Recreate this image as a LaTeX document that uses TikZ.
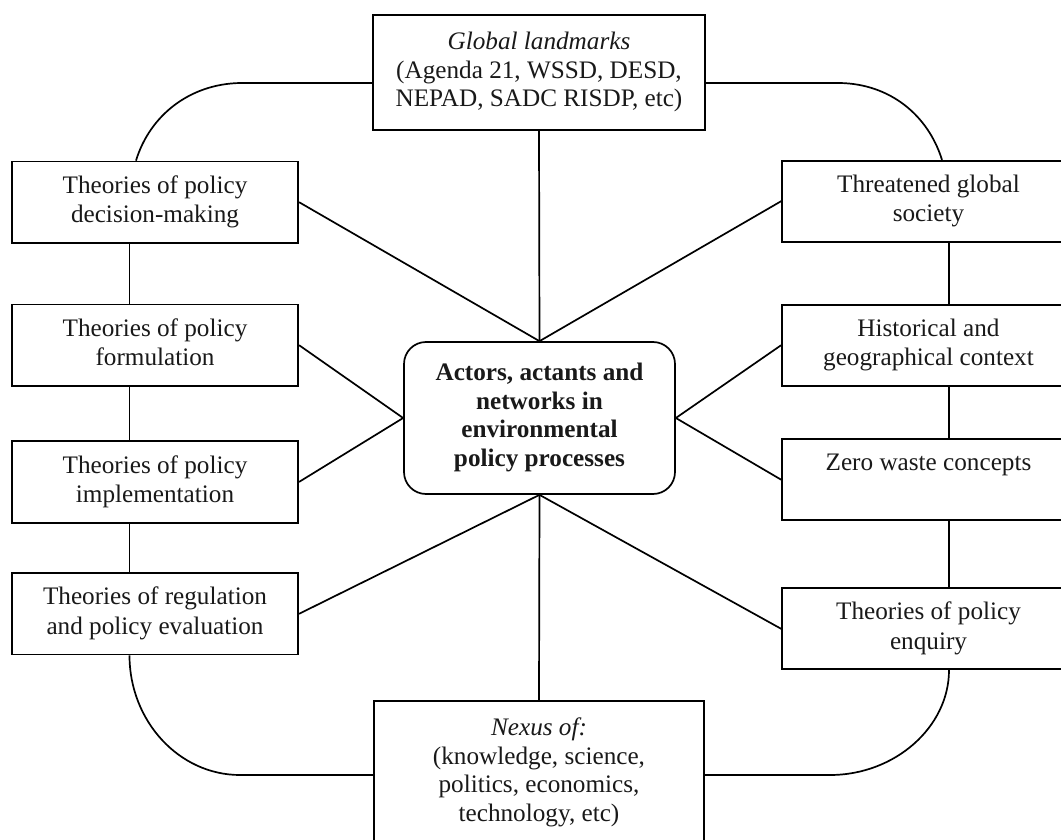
\documentclass[tikz,border=0pt]{standalone}
\usepackage{fontspec}
\setmainfont{Liberation Serif}
\usetikzlibrary{calc}
\begin{document}
\begin{tikzpicture}[x=1pt,y=-1pt,
  line width=1.7pt,
  box/.style={draw, line width=1.7pt, inner sep=0pt, align=center, text=black!90,
    font=\fontsize{25.2}{29.5}\selectfont},
  lbox/.style={box, minimum width=286.5pt, minimum height=81.5pt},
  rbox/.style={box, minimum width=293pt, minimum height=81pt},
  hubbox/.style={box, rounded corners=22pt, minimum width=271pt, minimum height=152pt,
    font=\fontsize{25.2}{28.5}\selectfont\bfseries},
  wide/.style={box, font=\fontsize{25.2}{28.5}\selectfont}]
\useasboundingbox (0,0) rectangle (1061,840);
\clip (0,0) rectangle (1061,840);
\fill[white] (0,0) rectangle (1061,840);

% column lines and the ring levels
\coordinate (lx) at (129.5,0);
\coordinate (rx) at (949,0);
\coordinate (ytop) at (0,83);
\coordinate (ybot) at (0,775);

% top and bottom boxes
\node[wide, minimum width=332pt, minimum height=115pt] (top) at (539,72.5)
  {\strut\textit{Global landmarks}\\(Agenda 21, WSSD, DESD,\\NEPAD, SADC RISDP, etc)\strut};
\node[wide, minimum width=330pt, minimum height=144pt] (nexus) at (539,773)
  {\strut\textit{Nexus of:}\\(knowledge, science,\\politics, economics,\\technology, etc)\strut};

% central hub
\node[hubbox] (hub) at (539.5,418)
  {\strut Actors, actants and\\networks in\\environmental\\policy processes\strut};

% left column
\node[lbox] (dm)   at (155,202.2) {\strut Theories of policy\\decision-making\strut};
\node[lbox] (form) at (155,345.2) {\strut Theories of policy\\formulation\strut};
\node[lbox] (impl) at (155,481.9) {\strut Theories of policy\\implementation\strut};
\node[lbox] (reg)  at (155,613.8) {\strut Theories of regulation\\and policy evaluation\strut};

% right column
\node[rbox] (tgs)  at (928.5,201.2) {\strut Threatened global\\society\strut};
\node[rbox] (hist) at (928.5,345.2) {\strut Historical and\\geographical context\strut};
\node[rbox] (zero) at (928.5,479.7) {\strut Zero waste concepts\\\strut};
\node[rbox] (enq)  at (928.5,628.8) {\strut Theories of policy\\enquiry\strut};

% spokes to the hub
\draw (top.south) -- (hub.north);
\draw (hub.south) -- (nexus.north);
\draw (dm.east) -- (hub.north);
\draw (tgs.west) -- (hub.north);
\draw (form.east) -- (hub.west);
\draw (impl.east) -- (hub.west);
\draw (hist.west) -- (hub.east);
\draw (zero.west) -- (hub.east);
\draw (reg.east) -- (hub.south);
\draw (enq.west) -- (hub.south);

% column links
\draw (dm.south -| lx) -- (form.north -| lx);
\draw (form.south -| lx) -- (impl.north -| lx);
\draw (impl.south -| lx) -- (reg.north -| lx);
\draw (tgs.south -| rx) -- (hist.north -| rx);
\draw (hist.south -| rx) -- (zero.north -| rx);
\draw (zero.south -| rx) -- (enq.north -| rx);

% outer ring
\draw (top.west |- ytop) -- (240,83) .. controls (190,84) and (150,115) .. ($(dm.north -| lx)+(6.5,0)$);
\draw (top.east |- ytop) -- (840,83) .. controls (890,84) and (928,115) .. ($(tgs.north -| rx)+(-7,0)$);
\draw (reg.south -| lx) .. controls (129.5,721) and (179,775) .. (240,775) -- (nexus.west |- ybot);
\draw (enq.south -| rx) .. controls (949,727) and (895,775) .. (830,775) -- (nexus.east |- ybot);
\end{tikzpicture}
\end{document}
